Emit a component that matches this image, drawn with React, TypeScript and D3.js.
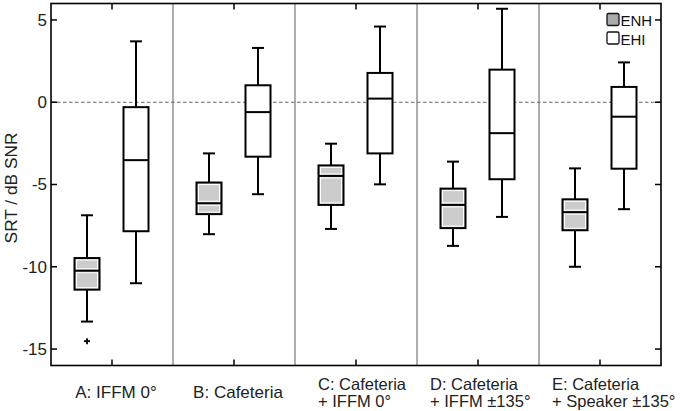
import React from "react";
import * as d3 from "d3";

const categories = ["A", "B", "C", "D", "E"];
const categoryLabels: string[][] = [
  ["A: IFFM 0°"],
  ["B: Cafeteria"],
  ["C: Cafeteria", "+ IFFM 0°"],
  ["D: Cafeteria", "+ IFFM ±135°"],
  ["E: Cafeteria", "+ Speaker ±135°"],
];
// [whiskerLow, q1, median, q3, whiskerHigh]
const enhStats: number[][] = [
  [-13.33, -11.39, -10.24, -9.47, -6.87],
  [-8.02, -6.8, -6.14, -4.88, -3.11],
  [-7.7, -6.24, -4.48, -3.84, -2.52],
  [-8.73, -7.65, -6.24, -5.25, -3.61],
  [-10.0, -7.78, -6.68, -5.9, -4.02],
];
const enhOutliers: number[][] = [[-14.52], [], [], [], []];
const ehiStats: number[][] = [
  [-11.0, -7.84, -3.52, -0.3, 3.7],
  [-5.59, -3.31, -0.6, 1.03, 3.3],
  [-4.99, -3.11, 0.22, 1.78, 4.6],
  [-6.97, -4.68, -1.88, 1.98, 5.68],
  [-6.5, -4.04, -0.88, 0.93, 2.42],
];
const yTicks = [5, 0, -5, -10, -15];
const seriesNames = ["ENH", "EHI"];

const W = 680;
const H = 411;
const left = 51;
const right = 661;
const top = 3.5;
const bottom = 365.5;
const font = "'Liberation Sans', Arial, sans-serif";

export default function App() {
  const x = d3.scaleBand<string>().domain(categories).range([left, right]).padding(0);
  const y = d3.scaleLinear().domain([-16, 6]).range([bottom, top]);
  const bw = x.bandwidth();
  const boxW = 25;
  const capW = 12;
  const offsets = [-25, 24];
  const fills = ["#cccccc", "#ffffff"];
  const labelStart = [null, null, -38, -48, -48];

  const drawBox = (s: number[], cx: number, fill: string, key: string, gray: boolean) => {
    const [lo, q1, med, q3, hi] = s;
    const x0 = cx - boxW / 2;
    return (
      <g key={key}>
        <line x1={cx} x2={cx} y1={y(hi)} y2={y(q3)} stroke="#000" strokeWidth={2} />
        <line x1={cx} x2={cx} y1={y(q1)} y2={y(lo)} stroke="#000" strokeWidth={2} />
        <line x1={cx - capW / 2} x2={cx + capW / 2} y1={y(hi)} y2={y(hi)} stroke="#000" strokeWidth={2} />
        <line x1={cx - capW / 2} x2={cx + capW / 2} y1={y(lo)} y2={y(lo)} stroke="#000" strokeWidth={2} />
        <rect x={x0} y={y(q3)} width={boxW} height={y(q1) - y(q3)} fill={fill} stroke="#000" strokeWidth={2} />
        {gray && (
          <rect x={x0 + 2} y={y(q3) + 2} width={boxW - 4} height={y(q1) - y(q3) - 4} fill="none" stroke="#fff" strokeWidth={1} />
        )}
        {gray && (
          <>
            <line x1={x0 + 2} x2={x0 + boxW - 2} y1={y(med) - 2} y2={y(med) - 2} stroke="#fff" strokeWidth={1} />
            <line x1={x0 + 2} x2={x0 + boxW - 2} y1={y(med) + 2} y2={y(med) + 2} stroke="#fff" strokeWidth={1} />
          </>
        )}
        <line x1={x0} x2={x0 + boxW} y1={y(med)} y2={y(med)} stroke="#000" strokeWidth={2} />
      </g>
    );
  };

  return (
    <svg width={W} height={H} style={{ position: "absolute", left: 0, top: 0, background: "#fff" }} fontFamily={font}>
      <rect x={0} y={0} width={W} height={H} fill="#fff" />
      {categories.slice(1).map((c) => (
        <line key={"sep" + c} x1={x(c)!} x2={x(c)!} y1={top} y2={bottom} stroke="#777" strokeWidth={1.2} />
      ))}
      <line x1={left} x2={right} y1={y(0)} y2={y(0)} stroke="#666" strokeWidth={1.2} strokeDasharray="3.5,2.5" />
      {categories.map((c, i) => {
        const cx = x(c)! + bw / 2;
        return (
          <g key={"b" + c}>
            {drawBox(enhStats[i], cx + offsets[0], fills[0], "e" + c, true)}
            {drawBox(ehiStats[i], cx + offsets[1], fills[1], "h" + c, false)}
            {enhOutliers[i].map((v, j) => (
              <g key={"o" + j} stroke="#000" strokeWidth={1.8}>
                <line x1={cx + offsets[0] - 3} x2={cx + offsets[0] + 3} y1={y(v)} y2={y(v)} />
                <line x1={cx + offsets[0]} x2={cx + offsets[0]} y1={y(v) - 3} y2={y(v) + 3} />
              </g>
            ))}
          </g>
        );
      })}
      <rect x={left} y={top} width={right - left} height={bottom - top} fill="none" stroke="#000" strokeWidth={1.6} />
      {yTicks.map((t) => (
        <g key={"yt" + t}>
          <line x1={left} x2={left + 6} y1={y(t)} y2={y(t)} stroke="#000" strokeWidth={1.5} />
          <line x1={right} x2={right - 6} y1={y(t)} y2={y(t)} stroke="#000" strokeWidth={1.5} />
          <text x={47} y={y(t)} dy="0.35em" textAnchor="end" fontSize={17} fill="#222">
            {t}
          </text>
        </g>
      ))}
      {categories.map((c, i) => {
        const cx = x(c)! + bw / 2;
        const lines = categoryLabels[i];
        const st = labelStart[i];
        return (
          <g key={"xt" + c}>
            <line x1={cx} x2={cx} y1={top} y2={top + 6} stroke="#000" strokeWidth={1.5} />
            <line x1={cx} x2={cx} y1={bottom} y2={bottom - 6} stroke="#000" strokeWidth={1.5} />
            {lines.length === 1 ? (
              <text x={cx + 4} y={398} textAnchor="middle" fontSize={17} fill="#222">
                {lines[0]}
              </text>
            ) : (
              lines.map((l, k) => (
                <text key={k} x={cx + (st as number)} y={389.5 + k * 17.5} textAnchor="start" fontSize={16.5} fill="#222">
                  {l}
                </text>
              ))
            )}
          </g>
        );
      })}
      <text transform={`translate(17.3,188) rotate(-90)`} textAnchor="middle" fontSize={17.3} fill="#222">
        SRT / dB SNR
      </text>
      {seriesNames.map((n, i) => (
        <g key={"lg" + n}>
          <rect x={607} y={13.5 + i * 18.5} width={12} height={12} rx={1.5} fill={i === 0 ? "#aaaaaa" : "#fff"} stroke="#111" strokeWidth={1.3} />
          <text x={620.5} y={26 + i * 18.5} fontSize={15} fill="#111">
            {n}
          </text>
        </g>
      ))}
    </svg>
  );
}
